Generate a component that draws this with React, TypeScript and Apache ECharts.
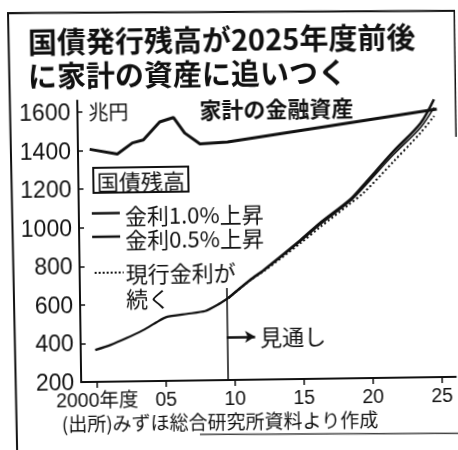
import React, { useEffect, useRef } from "react";
import * as echarts from "echarts";

// ---- texts ----
const TITLE_LINES = ["国債発行残高が2025年度前後", "に家計の資産に追いつく"];
const UNIT = "兆円";
const HOUSEHOLD_LABEL = "家計の金融資産";
const LEGEND_TITLE = "国債残高";
const LEGEND_ITEMS = ["金利1.0%上昇", "金利0.5%上昇", "現行金利が", "続く"];
const FORECAST_LABEL = "見通し";
const SOURCE = "(出所)みずほ総合研究所資料より作成";

// ---- axes ----
const X_TICKS = [2000, 2005, 2010, 2015, 2020, 2025];
const X_TICK_LABELS = ["2000年度", "05", "10", "15", "20", "25"];
const Y_TICKS = [200, 400, 600, 800, 1000, 1200, 1400, 1600];

// ---- data (兆円) ----
const HOUSEHOLD_YEARS = [1999.7, 2001.7, 2002.8, 2003.6, 2004.8, 2005.8, 2006.6, 2007.7, 2009.7, 2024.9];
const HOUSEHOLD_ASSETS = [1406, 1380, 1436, 1451, 1543, 1565, 1484, 1426, 1434, 1590];

const DEBT_YEARS = [1999.9, 2001.0, 2002.2, 2003.4, 2004.4, 2005.1, 2006.6, 2007.9, 2008.8, 2009.6];
const DEBT_ACTUAL = [365, 390, 425, 465, 506, 531, 546, 559, 590, 625];

const FORECAST_YEARS = [2009.6, 2011.2, 2012.2, 2014.9, 2016.3, 2018.5, 2019.5, 2021.7, 2023.7, 2024.7];
const DEBT_RATE_UP_10 = [625, 717, 768, 921, 1006, 1125, 1200, 1372, 1517, 1640];
const DEBT_RATE_UP_05 = [625, 716, 766, 915, 998, 1117, 1188, 1356, 1495, 1598];
const DEBT_RATE_CURRENT = [625, 715, 762, 905, 985, 1105, 1160, 1320, 1468, 1554];

const FORECAST_START = 2009.45;
const FORECAST_MARK_TOP = 677;
const ARROW_END = 2011.5;
const ARROW_LEVEL = 423;

const INK = "#111";
const CJK = "'Noto Sans CJK JP', sans-serif";
const NUM = "'Liberation Sans', 'Noto Sans CJK JP', sans-serif";

const zip = (xs: number[], ys: number[]) => xs.map((x, i) => [x, ys[i]]);

const txt = (
  text: string,
  x: number,
  y: number,
  fontSize: number,
  align: string = "left",
  fontWeight: string = "normal"
) => ({
  type: "text",
  x,
  y,
  silent: true,
  style: {
    text,
    fill: INK,
    fontSize,
    fontFamily: CJK,
    fontWeight,
    textAlign: align,
    textVerticalAlign: "middle",
    align,
    verticalAlign: "middle",
  },
});

export default function App() {
  const ref = useRef<HTMLDivElement>(null);

  useEffect(() => {
    if (!ref.current) return;
    const chart = echarts.init(ref.current, undefined, { renderer: "svg" });

    const option: any = {
      animation: false,
      backgroundColor: "#fff",
      grid: { left: 79, right: 4.4, top: 98.4, bottom: 70, containLabel: false },
      xAxis: {
        type: "value",
        min: 1998.85,
        max: 2026,
        axisLine: { show: true, lineStyle: { color: INK, width: 2.2 } },
        axisTick: {
          show: true,
          inside: false,
          length: 6,
          customValues: X_TICKS,
          lineStyle: { color: INK, width: 1.5 },
        },
        axisLabel: {
          customValues: X_TICKS,
          formatter: (v: number) => {
            const i = X_TICKS.indexOf(Math.round(v));
            return i >= 0 ? X_TICK_LABELS[i] : "";
          },
          color: INK,
          fontSize: 19.5,
          fontFamily: NUM,
          margin: 8,
        },
        splitLine: { show: false },
      },
      yAxis: {
        type: "value",
        min: 200,
        max: 1660,
        axisLine: { show: true, lineStyle: { color: INK, width: 2 } },
        axisTick: {
          show: true,
          inside: true,
          length: 5,
          customValues: Y_TICKS,
          lineStyle: { color: INK, width: 1.5 },
        },
        axisLabel: {
          customValues: Y_TICKS,
          formatter: (v: number) => String(v),
          color: INK,
          fontSize: 23,
          fontFamily: NUM,
          margin: 7,
        },
        splitLine: { show: false },
      },
      series: [
        {
          name: HOUSEHOLD_LABEL,
          type: "line",
          data: zip(HOUSEHOLD_YEARS, HOUSEHOLD_ASSETS),
          showSymbol: false,
          lineStyle: { color: INK, width: 3 },
          markLine: {
            silent: true,
            symbol: ["none", "arrow"],
            symbolSize: [9, 10],
            label: { show: false },
            lineStyle: { color: INK, width: 2.5, type: "solid" },
            data: [
              [
                { coord: [FORECAST_START, ARROW_LEVEL] },
                { coord: [ARROW_END, ARROW_LEVEL] },
              ],
            ],
          },
        },
        {
          name: LEGEND_TITLE,
          type: "line",
          data: zip(DEBT_YEARS, DEBT_ACTUAL),
          showSymbol: false,
          smooth: 0.2,
          lineStyle: { color: INK, width: 2.2 },
          markLine: {
            silent: true,
            symbol: ["none", "none"],
            label: { show: false },
            lineStyle: { color: INK, width: 1.5, type: "solid" },
            data: [
              [
                { coord: [FORECAST_START, 200] },
                { coord: [FORECAST_START, FORECAST_MARK_TOP] },
              ],
            ],
          },
        },
        {
          name: LEGEND_ITEMS[0],
          type: "line",
          data: zip(FORECAST_YEARS, DEBT_RATE_UP_10),
          showSymbol: false,
          smooth: 0.3,
          lineStyle: { color: INK, width: 2.6 },
        },
        {
          name: LEGEND_ITEMS[1],
          type: "line",
          data: zip(FORECAST_YEARS, DEBT_RATE_UP_05),
          showSymbol: false,
          smooth: 0.3,
          lineStyle: { color: INK, width: 1.6 },
        },
        {
          name: LEGEND_ITEMS[2],
          type: "line",
          data: zip(FORECAST_YEARS, DEBT_RATE_CURRENT),
          showSymbol: false,
          smooth: 0.3,
          lineStyle: { color: INK, width: 2, type: [2, 2.5] },
        },
      ],
      graphic: [
        // frame (hand-drawn box)
        {
          type: "polyline",
          silent: true,
          shape: { points: [[14, 447], [11, 10], [457.5, 14], [457.5, 140]] },
          style: { stroke: INK, lineWidth: 2, fill: "none" },
        },
        {
          type: "line",
          silent: true,
          shape: { x1: 197, y1: 434, x2: 456, y2: 436.5 },
          style: { stroke: "#444", lineWidth: 1.5 },
        },
        txt(TITLE_LINES[0], 30.5, 38, 29, "left", "bold"),
        txt(TITLE_LINES[1], 30, 72, 29, "left", "bold"),
        txt(UNIT, 90, 109.5, 20),
        txt(HOUSEHOLD_LABEL, 201, 108, 22, "left", "bold"),
        // legend
        {
          type: "rect",
          silent: true,
          shape: { x: 94, y: 166, width: 95, height: 25 },
          style: { fill: "none", stroke: INK, lineWidth: 2 },
        },
        txt(LEGEND_TITLE, 141.5, 178.8, 22, "center"),
        {
          type: "line",
          silent: true,
          shape: { x1: 92, y1: 211.5, x2: 120, y2: 211.5 },
          style: { stroke: INK, lineWidth: 2.5 },
        },
        txt(LEGEND_ITEMS[0], 125, 213, 22),
        {
          type: "line",
          silent: true,
          shape: { x1: 92, y1: 235, x2: 120, y2: 235 },
          style: { stroke: INK, lineWidth: 2.5 },
        },
        txt(LEGEND_ITEMS[1], 125, 236.5, 22),
        {
          type: "line",
          silent: true,
          shape: { x1: 94, y1: 271, x2: 123, y2: 271 },
          style: { stroke: INK, lineWidth: 2, lineDash: [2, 2] },
        },
        txt(LEGEND_ITEMS[2], 125, 270.5, 22),
        txt(LEGEND_ITEMS[3], 125, 295.6, 22),
        txt(FORECAST_LABEL, 258.5, 336, 22),
        txt(SOURCE, 59, 420, 19),
      ],
    };

    chart.setOption(option);
    return () => chart.dispose();
  }, []);

  return (
    <div
      ref={ref}
      style={{
        position: "fixed",
        left: 0,
        top: 0,
        width: 458,
        height: 450,
        background: "#fff",
        transform: "rotate(-0.8deg)",
        transformOrigin: "229px 225px",
      }}
    />
  );
}
